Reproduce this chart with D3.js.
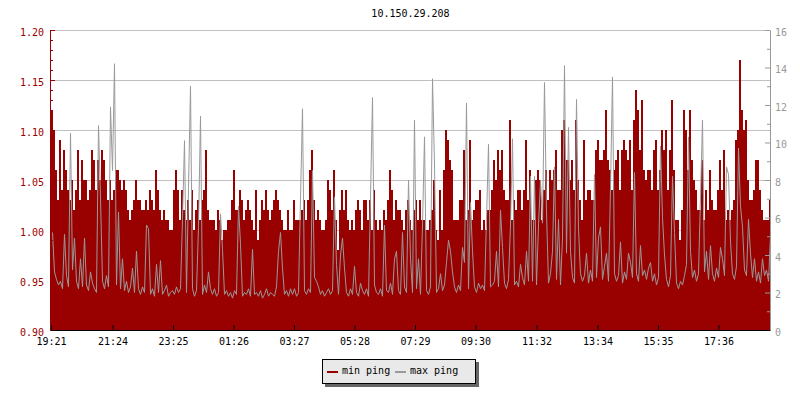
<!DOCTYPE html>
<html><head><meta charset="utf-8">
<script src="https://cdn.jsdelivr.net/npm/d3@7/dist/d3.min.js"></script>
<style>
body{margin:0;background:#fff;}
svg{display:block;font-family:"DejaVu Sans Mono",monospace;font-size:10px;}
</style></head><body><svg id="c" width="800" height="400"></svg>
<script>
const title = "10.150.29.208";
const startTime = "19:21";
const stepMinutes = 4;
const tickLabels = ["19:21","21:24","23:25","01:26","03:27","05:28","07:29","09:30","11:32","13:34","15:35","17:36"];
const leftTicks = [0.90,0.95,1.00,1.05,1.10,1.15,1.20];
const rightTicks = [0,2,4,6,8,10,12,14,16];
const seriesNames = ["min ping","max ping"];

const minPing = [
1.12,1.10,1.06,1.03,1.09,1.04,1.08,1.06,1.04,1.03,1.05,1.02,1.04,1.08,1.03,1.07,1.05,1.05,1.03,1.04,
1.08,1.07,1.04,1.07,1.05,1.08,1.07,1.05,1.03,1.05,1.03,1.04,1.06,1.06,1.05,1.04,1.05,1.04,1.02,1.01,
1.02,1.03,1.05,1.03,1.03,1.02,1.02,1.03,1.02,1.04,1.03,1.02,1.06,1.04,1.02,1.01,1.02,1.01,1.01,1.00,
1.00,1.04,1.06,1.04,1.01,1.04,1.02,1.01,1.03,1.01,1.04,1.00,1.02,1.03,1.01,1.03,1.04,1.08,1.02,1.01,
1.01,1.01,1.00,1.02,1.01,0.99,1.00,1.00,1.01,1.01,1.03,1.06,1.02,1.02,1.04,1.03,1.01,1.02,1.03,1.02,
1.01,1.00,1.04,0.99,1.01,1.03,1.02,1.04,1.02,1.01,1.02,1.03,1.04,1.03,1.02,1.01,1.00,1.00,1.02,1.00,
1.00,1.03,1.01,1.01,1.01,1.02,1.03,1.01,1.03,1.06,1.08,1.03,1.01,1.02,1.01,1.00,1.00,1.01,1.05,1.04,
1.02,1.06,1.01,0.98,1.02,1.04,1.02,1.04,1.01,1.00,1.01,1.00,1.02,1.03,1.02,1.00,1.03,1.03,1.01,1.03,
1.00,1.04,1.01,1.00,1.01,1.00,1.02,1.01,1.03,1.06,1.04,1.01,1.03,1.02,1.02,1.01,1.00,1.02,1.03,1.01,
1.00,1.02,1.03,1.01,1.03,1.01,1.01,1.00,1.00,1.01,1.02,1.05,1.00,0.99,1.04,1.00,1.06,1.10,1.09,1.07,
1.06,1.01,1.01,1.01,1.03,1.03,1.08,1.01,1.02,1.09,1.01,1.02,1.03,1.03,1.04,1.00,1.01,1.00,1.02,1.02,
1.04,1.07,1.05,1.08,1.06,1.08,1.04,1.03,1.03,1.11,1.01,1.03,1.02,1.04,1.04,1.02,1.04,1.09,1.03,1.06,
1.01,1.01,1.05,1.06,1.05,1.01,1.04,1.06,1.03,1.06,1.05,1.06,1.08,1.04,1.04,1.10,1.11,1.07,1.07,1.05,
1.07,1.04,1.11,1.05,1.03,1.01,1.09,1.03,1.04,1.04,1.03,1.03,1.08,1.09,1.07,1.07,1.08,1.12,1.07,1.06,
1.04,1.06,1.07,1.08,1.04,1.08,1.09,1.08,1.07,1.09,1.04,1.11,1.14,1.12,1.08,1.13,1.06,1.05,1.06,1.06,
1.04,1.08,1.09,1.04,1.06,1.10,1.08,1.10,1.04,1.08,1.13,1.06,1.01,1.01,0.99,1.02,1.12,1.10,1.06,1.12,
1.07,1.05,1.04,1.02,1.02,1.07,1.01,1.04,1.02,1.06,1.03,1.02,1.02,1.04,1.07,1.04,1.08,1.01,1.02,1.01,
1.02,1.03,1.09,1.10,1.17,1.12,1.10,1.11,1.05,1.03,1.03,1.04,1.07,1.07,1.04,1.02,1.01,1.01,1.01,1.03
];

const maxPing = [
5.2,3.1,2.7,2.4,2.6,2.2,5.1,2.9,2.3,10.5,3.2,4.9,2.6,2.2,3.8,2.3,4.9,2.4,2.1,3.1,
2.5,2.2,2.0,10.9,7.0,2.6,2.2,2.9,2.3,11.9,8.5,14.2,2.4,6.3,2.2,3.8,2.1,2.6,2.0,2.3,
3.3,2.0,4.2,2.2,1.9,2.3,2.0,5.6,5.4,1.9,2.2,1.8,3.5,2.0,3.7,1.9,2.1,2.4,1.8,2.0,
2.1,1.9,2.3,2.0,2.2,5.9,10.1,2.0,7.6,13.0,2.2,1.8,2.1,5.5,11.4,1.9,2.4,2.0,3.1,2.2,
1.9,2.2,1.8,2.0,6.2,4.3,1.9,2.1,1.8,2.0,1.7,2.1,1.9,6.6,4.6,1.8,2.0,1.9,2.2,1.8,
4.3,1.9,2.0,1.8,2.1,1.7,1.9,2.2,1.8,2.0,1.9,1.8,2.3,4.2,5.2,3.3,1.9,2.1,1.8,2.2,
1.9,2.2,1.8,2.0,7.0,11.8,2.1,1.9,2.2,2.0,8.5,2.8,2.6,2.3,1.9,2.1,1.8,2.0,2.2,1.9,
2.1,7.1,3.5,1.9,4.0,4.9,3.3,2.0,1.8,2.2,1.9,3.4,2.0,1.8,2.5,2.1,1.9,2.2,1.8,7.1,
12.4,2.4,2.0,1.9,2.2,1.8,5.6,2.1,2.0,2.5,1.9,3.8,4.2,2.1,1.9,5.2,2.3,2.0,8.0,3.8,
2.0,11.2,2.2,3.8,1.9,5.6,10.3,2.1,1.9,2.3,13.4,8.8,2.0,2.2,3.0,2.1,2.4,3.6,4.8,4.2,
3.1,2.3,2.0,2.4,2.1,4.4,3.6,12.1,2.2,6.8,4.2,2.3,2.0,2.5,2.2,2.4,2.1,5.9,9.9,2.3,
2.4,2.6,4.2,2.3,6.4,4.4,2.5,2.2,2.7,5.6,10.2,2.4,2.6,2.3,3.5,2.8,2.4,4.2,2.6,8.2,
2.6,8.2,2.4,5.6,8.0,5.7,13.2,6.3,2.5,3.0,4.2,8.7,2.7,5.9,2.4,4.9,14.1,4.1,10.8,4.2,
2.8,2.5,12.3,5.4,3.0,2.6,2.9,4.1,2.5,3.2,2.6,8.3,2.8,4.9,5.5,2.7,3.4,4.1,2.6,7.6,
13.5,3.0,2.6,2.9,4.7,2.5,3.1,2.7,4.1,3.6,2.8,8.4,3.0,2.6,4.5,2.9,3.2,2.7,3.3,3.6,
2.6,3.0,2.4,2.8,9.8,6.0,4.0,2.7,2.3,2.9,8.2,5.2,2.5,2.2,2.6,2.4,2.9,3.5,10.3,4.2,
2.8,3.2,2.6,3.0,7.1,11.2,3.1,4.2,2.7,4.5,3.0,2.6,3.3,2.8,4.4,3.8,2.9,8.7,8.3,4.7,
3.0,2.7,3.4,9.7,6.6,5.5,3.2,2.9,5.9,4.1,2.8,3.8,2.6,3.1,2.5,3.8,2.9,3.2,2.6,5.0
];

const RED = "#990000", GRAY = "#999999";
const L = 51, R = 770, T = 30, B = 330;
const svg = d3.select("#c");

const [sh, sm] = startTime.split(":").map(Number);
const t0 = new Date(2020, 0, 1, sh, sm);
const MIN = 60000;
const timeAt = i => new Date(t0.getTime() + i * stepMinutes * MIN);
const tEnd = new Date(t0.getTime() + (R - L) * 2 * MIN);

const x = d3.scaleTime().domain([t0, tEnd]).range([L, R]);
const yL = d3.scaleLinear().domain([0.9, 1.2]).range([B, T]);
const yR = d3.scaleLinear().domain([0, 16]).range([B, T]);

svg.append("defs").append("clipPath").attr("id", "clip")
  .append("rect").attr("x", L).attr("y", T).attr("width", R - L).attr("height", B - T);

// gridlines
svg.append("g").selectAll("line").data(leftTicks.filter(d => d > 0.9)).join("line")
  .attr("x1", L).attr("x2", R)
  .attr("y1", d => Math.round(yL(d)) + 0.5).attr("y2", d => Math.round(yL(d)) + 0.5)
  .attr("stroke", "#c0c0c0").attr("stroke-width", 1);

const plot = svg.append("g").attr("clip-path", "url(#clip)");

// min ping area (step)
const minData = minPing.map((v, i) => ({ t: timeAt(i), v }));
minData.push({ t: timeAt(minPing.length), v: minPing[minPing.length - 1] });
plot.append("path").datum(minData)
  .attr("fill", RED).attr("shape-rendering", "crispEdges")
  .attr("d", d3.area().x(d => x(d.t)).y0(B).y1(d => yL(d.v)).curve(d3.curveStepAfter));

// max ping line
const maxData = maxPing.map((v, i) => ({ t: new Date(timeAt(i).getTime() + stepMinutes * MIN / 2), v }));
plot.append("path").datum(maxData)
  .attr("fill", "none").attr("stroke", GRAY).attr("stroke-width", 1)
  .attr("d", d3.line().x(d => x(d.t) + 0.5).y(d => yR(d.v)));

// left axis
const gl = svg.append("g").attr("transform", `translate(${L - 1},0)`);
gl.call(d3.axisLeft(yL).tickValues(leftTicks).tickFormat(d3.format(".2f"))
  .tickSizeInner(-5).tickSizeOuter(0).tickPadding(6));
gl.append("g").call(d3.axisLeft(yL).tickValues(d3.range(0, 31).map(k => 0.9 + k * 0.01))
  .tickFormat("").tickSizeInner(-3).tickSizeOuter(0)).select(".domain").remove();
gl.selectAll("line,path").attr("stroke", RED);
gl.selectAll("text").attr("fill", RED).attr("dy", "0.5em")
  .style("font-family", '"DejaVu Sans Mono",monospace').style("font-size", "10px");

// right axis
const gr = svg.append("g").attr("transform", `translate(${R},0)`);
gr.call(d3.axisRight(yR).tickValues(rightTicks).tickSizeInner(-5).tickSizeOuter(0).tickPadding(5));
gr.append("g").call(d3.axisRight(yR).tickValues(d3.range(1, 16, 2))
  .tickFormat("").tickSizeInner(-3).tickSizeOuter(0)).select(".domain").remove();
gr.selectAll("line,path").attr("stroke", GRAY);
gr.selectAll("text").attr("fill", GRAY).attr("dy", "0.5em")
  .style("font-family", '"DejaVu Sans Mono",monospace').style("font-size", "10px");

// bottom axis
const tickDates = tickLabels.map(s => {
  const [h, m] = s.split(":").map(Number);
  const d = new Date(2020, 0, 1, h, m);
  if (d < t0) d.setDate(d.getDate() + 1);
  return d;
});
const gb = svg.append("g").attr("transform", `translate(0,${B})`);
gb.call(d3.axisBottom(x).tickValues(tickDates).tickFormat((d, i) => tickLabels[i])
  .tickSizeInner(-5).tickSizeOuter(0).tickPadding(7.5));
gb.selectAll("line,path").attr("stroke", "#000");
gb.selectAll("text").attr("fill", "#000")
  .style("font-family", '"DejaVu Sans Mono",monospace').style("font-size", "10px");

// title
svg.append("text").attr("x", (L + R) / 2).attr("y", 17).attr("text-anchor", "middle")
  .attr("fill", "#000").text(title);

// legend
const lg = svg.append("g");
lg.append("rect").attr("x", 325).attr("y", 362).attr("width", 154).attr("height", 25).attr("fill", "#666");
lg.append("rect").attr("x", 322.5).attr("y", 359.5).attr("width", 153).attr("height", 24)
  .attr("fill", "#e9e9e9").attr("stroke", "#000").attr("stroke-width", 1);
const items = [
  { name: seriesNames[0], color: RED, sx: 327, tx: 342 },
  { name: seriesNames[1], color: GRAY, sx: 395, tx: 410 }
];
items.forEach(it => {
  lg.append("rect").attr("x", it.sx).attr("y", 371).attr("width", 11).attr("height", 2).attr("fill", it.color);
  lg.append("text").attr("x", it.tx).attr("y", 374).attr("fill", "#000").text(it.name);
});
</script></body></html>
